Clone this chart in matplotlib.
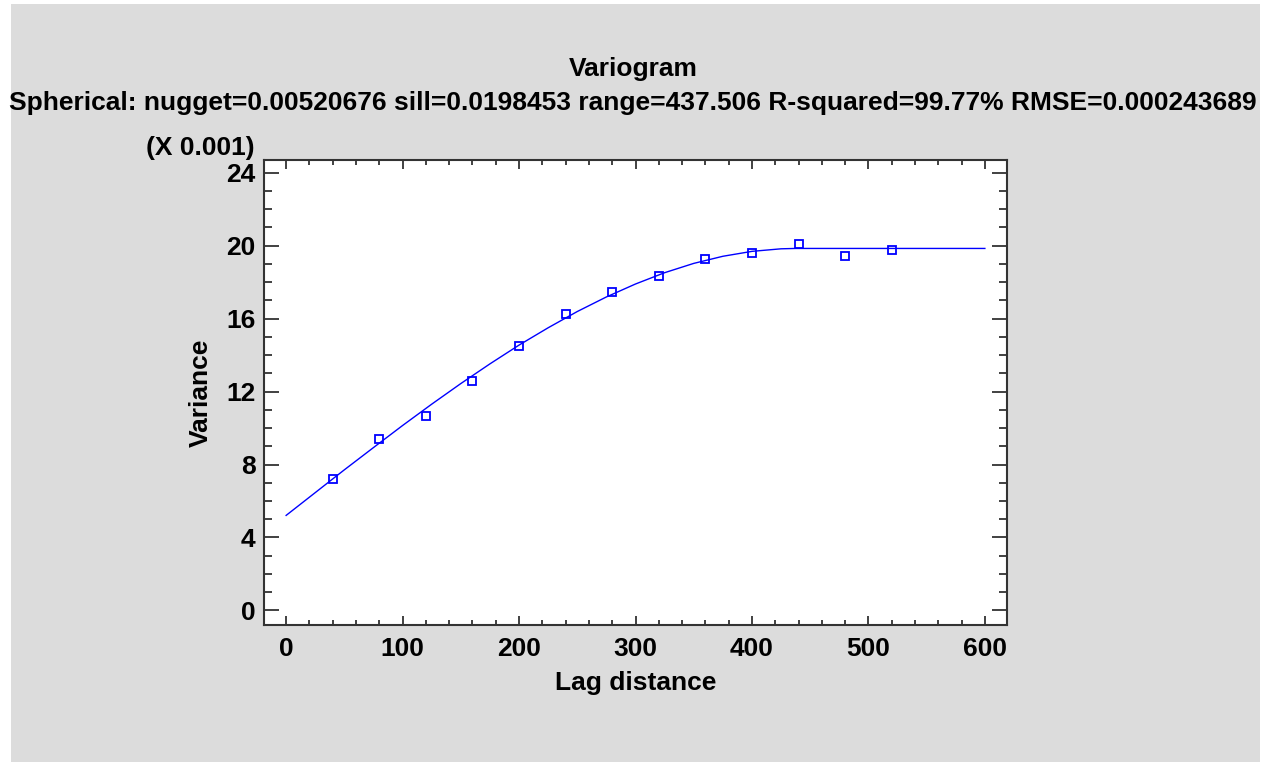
import numpy as np
import matplotlib.pyplot as plt
from matplotlib.patches import Rectangle
from matplotlib.ticker import MultipleLocator

plt.rcParams['font.family'] = ['Liberation Sans', 'DejaVu Sans']
plt.rcParams['font.weight'] = 'bold'

# empirical variogram (lag, variance x 0.001)
lag = [40, 80, 120, 160, 200, 240, 280, 320, 360, 400, 440, 480, 520]
variance = [7.20, 9.39, 10.68, 12.60, 14.50, 16.26, 17.45, 18.32, 19.29, 19.61, 20.08, 19.45, 19.76]

# fitted spherical model
fit_lag = [0, 25, 50, 75, 100, 125, 150, 175, 200, 225, 250, 275, 300,
           325, 350, 375, 400, 425, 437.5, 500, 600]
fit_val = [5.21, 6.46, 7.71, 8.93, 10.14, 11.31, 12.44, 13.52, 14.55, 15.50, 16.39, 17.19, 17.90,
           18.52, 19.03, 19.42, 19.69, 19.83, 19.85, 19.85, 19.85]

title = 'Variogram'
subtitle = 'Spherical: nugget=0.00520676 sill=0.0198453 range=437.506 R-squared=99.77% RMSE=0.000243689'

W, H = 1270, 766
fs = 19
fig = plt.figure(figsize=(W / 100, H / 100), dpi=100, facecolor='white')
fig.patches.append(Rectangle((11 / W, 4 / H), 1249 / W, 758 / H, transform=fig.transFigure,
                             facecolor='#dcdcdc', edgecolor='none', zorder=-1))

ax = fig.add_axes([264 / W, 1 - 625 / H, (1007 - 264) / W, (625 - 160) / H])
ax.plot(fit_lag, fit_val, color='#0000ff', lw=1.0)
ax.plot(lag, variance, ls='none', marker='s', ms=5.5, mfc='none', mec='#0000ff', mew=1.3)

ax.set_xlim(-19, 619)
ax.set_ylim(-0.8, 24.7)
ax.xaxis.set_major_locator(MultipleLocator(100))
ax.xaxis.set_minor_locator(MultipleLocator(20))
ax.yaxis.set_major_locator(MultipleLocator(4))
ax.yaxis.set_minor_locator(MultipleLocator(1))

ax.tick_params(axis='y', which='major', direction='in', left=True, right=True, length=11, width=1.3,
               color='#333333', labelsize=fs, pad=6)
ax.tick_params(axis='y', which='minor', direction='in', left=True, right=True, length=6, width=1.3,
               color='#333333')
ax.tick_params(axis='x', which='major', direction='in', bottom=True, top=True, length=6.5, width=1.3,
               color='#333333', labelsize=fs, pad=9)
ax.tick_params(axis='x', which='minor', direction='in', bottom=True, top=True, length=3.6, width=1.3,
               color='#333333')
for lbl in ax.get_xticklabels() + ax.get_yticklabels():
    lbl.set_fontweight('bold')
for s in ax.spines.values():
    s.set_linewidth(1.5)
    s.set_color('#333333')

ax.set_xlabel('Lag distance', fontsize=fs, fontweight='bold', labelpad=7)
ax.set_ylabel('Variance', fontsize=fs, fontweight='bold', labelpad=10)

fig.text(633 / W, 1 - 69 / H, title, ha='center', va='center', fontsize=fs, fontweight='bold')
fig.text(633 / W, 1 - 103 / H, subtitle, ha='center', va='center', fontsize=fs, fontweight='bold')
fig.text(255 / W, 1 - 148 / H, '(X 0.001)', ha='right', va='center', fontsize=fs, fontweight='bold')

fig.savefig('out.png', dpi=100, facecolor='white')
